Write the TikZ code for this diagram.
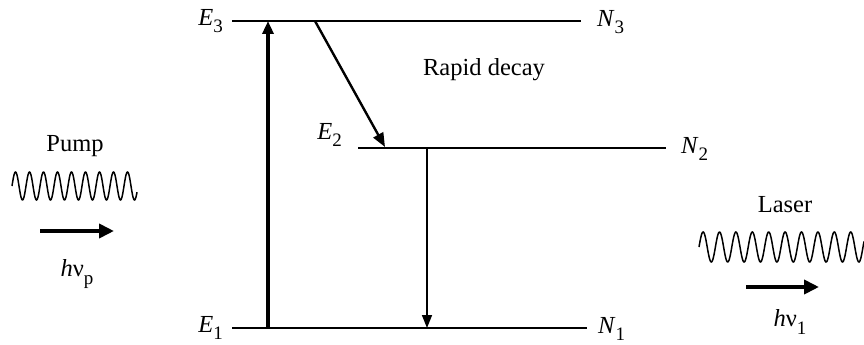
\documentclass[tikz,border=0pt]{standalone}
\usepackage{fontspec}
\setmainfont{Liberation Serif}
\usetikzlibrary{arrows.meta}
\newcommand\subsc[1]{\raisebox{-0.3em}{\fontsize{19}{21}\selectfont #1}}
\newcommand\lvlab[2]{\textit{#1}\subsc{#2}}
\begin{document}
\begin{tikzpicture}[x=1pt,y=-1pt,
  lbl/.style={inner sep=0pt,font=\fontsize{24.5}{28}\selectfont},
  level/.style={line width=1.3pt},
  pumparrow/.style={line width=4pt,-{Triangle[length=13pt,width=11pt]}},
  decayarrow/.style={line width=2.4pt,-{Triangle[length=14pt,width=11pt]}},
  lasearrow/.style={line width=1.5pt,-{Triangle[length=13pt,width=10pt]}},
  photonarrow/.style={line width=4.5pt,-{Triangle[length=15pt,width=14pt]}},
  wave/.style={line width=1.5pt}]
\useasboundingbox (0,0) rectangle (864,345);
% levels
\coordinate (e3l) at (232,21); \coordinate (e3r) at (581,21);
\coordinate (e2l) at (358,148); \coordinate (e2r) at (666,148);
\coordinate (e1l) at (232,328); \coordinate (e1r) at (587,328);
\draw[level] (e3l) -- (e3r);
\draw[level] (e2l) -- (e2r);
\draw[level] (e1l) -- (e1r);
% labels
\node[lbl,anchor=mid east] (E3) at (223,23) {\lvlab{E}{3}};
\node[lbl,anchor=mid east] (E2) at (342,137) {\lvlab{E}{2}};
\node[lbl,anchor=mid east] (E1) at (223,330) {\lvlab{E}{1}};
\node[lbl,anchor=mid west] (N3) at (597,24) {\lvlab{N}{3}};
\node[lbl,anchor=mid west] (N2) at (681,151) {\lvlab{N}{2}};
\node[lbl,anchor=mid west] (N1) at (598,331) {\lvlab{N}{1}};
\node[lbl] (rapid) at (484,70) {Rapid decay};
% transitions
\coordinate (up0) at (268,328); \coordinate (up1) at (268,21);
\draw[pumparrow] (up0) -- (up1);
\coordinate (d0) at (315,21); \coordinate (d1) at (385,147);
\draw[decayarrow] (d0) -- (d1);
\coordinate (l0) at (427,148); \coordinate (l1) at (427,328);
\draw[lasearrow] (l0) -- (l1);
% pump photon
\node[lbl] (pump) at (75,146) {Pump};
\draw[wave] plot[domain=12:137,samples=400,smooth] (\x,{186-14*sin(25.714*(\x-12))});
\coordinate (pa0) at (40,231); \coordinate (pa1) at (114,231);
\draw[photonarrow] (pa0) -- (pa1);
\node[lbl] (hvp) at (77,274) {\textit{h}ν\subsc{p}};
% laser photon
\node[lbl] (laser) at (785,205) {Laser};
\draw[wave] plot[domain=699:864,samples=400,smooth] (\x,{247-15*sin(21.951*(\x-699))});
\coordinate (la0) at (746,287); \coordinate (la1) at (819,287);
\draw[photonarrow] (la0) -- (la1);
\node[lbl] (hvl) at (790,322) {\textit{h}ν\subsc{1}};
\end{tikzpicture}
\end{document}
